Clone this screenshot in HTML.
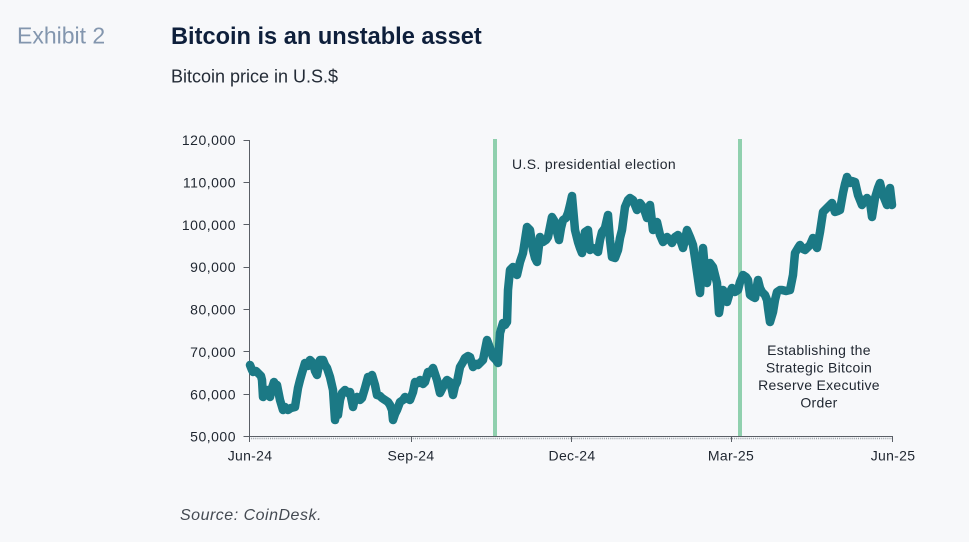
<!DOCTYPE html>
<html>
<head>
<meta charset="utf-8">
<style>
  html, body { margin:0; padding:0; background:#f7f8fa; }
  body { width:969px; height:542px; overflow:hidden; }
  svg { display:block; }
  text { font-family: "Liberation Sans", Arial, sans-serif; }
</style>
</head>
<body>
<svg width="969" height="542" viewBox="0 0 969 542" xmlns="http://www.w3.org/2000/svg">
  <rect x="0" y="0" width="969" height="542" fill="#f7f8fa"/>

  <!-- Header -->
  <text x="17" y="43.5" font-size="23" fill="#8396ae">Exhibit 2</text>
  <text x="171" y="44" font-size="23.6" font-weight="bold" fill="#0e1f3b">Bitcoin is an unstable asset</text>
  <text x="171" y="82.5" font-size="18" fill="#232b36">Bitcoin price in U.S.$</text>

  <!-- Event lines -->
  <rect x="493" y="139" width="4" height="298" fill="#90d0ae"/>
  <rect x="738" y="139" width="4" height="298" fill="#90d0ae"/>

  <!-- Y axis -->
  <g stroke="#5a5f66" stroke-width="1">
    <line x1="249.5" y1="140" x2="249.5" y2="437"/>
    <line x1="243.5" y1="140.5" x2="249.5" y2="140.5"/>
    <line x1="243.5" y1="182.5" x2="249.5" y2="182.5"/>
    <line x1="243.5" y1="224.5" x2="249.5" y2="224.5"/>
    <line x1="243.5" y1="267.5" x2="249.5" y2="267.5"/>
    <line x1="243.5" y1="309.5" x2="249.5" y2="309.5"/>
    <line x1="243.5" y1="351.5" x2="249.5" y2="351.5"/>
    <line x1="243.5" y1="394.5" x2="249.5" y2="394.5"/>
    <line x1="243.5" y1="436.5" x2="249.5" y2="436.5"/>
  </g>
  <g font-size="14" fill="#1f2630" text-anchor="end" letter-spacing="0.5">
    <text x="236" y="145">120,000</text>
    <text x="236" y="187.4">110,000</text>
    <text x="236" y="229.8">100,000</text>
    <text x="236" y="272.2">90,000</text>
    <text x="236" y="314.5">80,000</text>
    <text x="236" y="356.9">70,000</text>
    <text x="236" y="399.3">60,000</text>
    <text x="236" y="441.7">50,000</text>
  </g>

  <!-- X axis -->
  <line x1="249" y1="436.5" x2="893" y2="436.5" stroke="#5a5f66" stroke-width="1"/>
  <line x1="249" y1="438.5" x2="893" y2="438.5" stroke="#9aa0a6" stroke-width="1.5" stroke-dasharray="1 1.1"/>
  <g stroke="#5a5f66" stroke-width="1">
    <line x1="249.5" y1="436" x2="249.5" y2="442"/>
    <line x1="411.5" y1="436" x2="411.5" y2="442"/>
    <line x1="571.5" y1="436" x2="571.5" y2="442"/>
    <line x1="731.5" y1="436" x2="731.5" y2="442"/>
    <line x1="892.5" y1="436" x2="892.5" y2="442"/>
  </g>
  <g font-size="14" fill="#1f2630" text-anchor="middle" letter-spacing="0.3">
    <text x="250" y="460.7">Jun-24</text>
    <text x="411" y="460.7">Sep-24</text>
    <text x="572" y="460.7">Dec-24</text>
    <text x="731" y="460.7">Mar-25</text>
    <text x="893" y="460.7">Jun-25</text>
  </g>

  <!-- Series -->
  <polyline fill="none" stroke="#1b7985" stroke-width="8.5" stroke-linejoin="round" stroke-linecap="round"
    points="250,365 252,370 253,372 256,371 258,373 261,376 262,380 263,397 265,392 267,390 269,395 270,397 272,388 274,382 276,386 277,385 280,400 283,410 285,407 288,410 291,408 295,407 298,388 300,380 302,373 305,363 308,366 310,360 313,363 315,371 317,375 320,360 323,360 325,365 327,368 330,377 333,390 335,420 337,410 338,415 340,400 342,393 345,390 348,393 350,392 352,402 353,407 355,398 357,397 360,400 362,398 365,388 368,377 370,378 372,375 375,385 377,395 380,396 382,398 385,400 388,402 390,405 392,410 393,420 395,414 397,410 400,402 403,400 405,397 408,399 410,400 413,392 415,382 418,383 420,380 423,384 425,382 428,372 430,373 433,368 435,374 437,380 440,393 443,387 445,383 447,380 450,382 452,390 453,395 455,386 457,382 460,367 463,362 465,358 468,356 470,357 473,367 476,364 478,365 481,362 483,360 487,340 490,348 493,357 496,360 498,363 500,333 503,323 505,325 507,322 508,290 510,270 513,267 515,272 517,275 520,262 523,253 525,240 527,227 530,230 533,250 535,258 537,262 540,237 543,242 546,240 548,237 552,217 555,222 557,232 559,240 561,228 563,220 566,218 568,213 570,205 572,196 575,230 578,242 580,248 582,253 585,232 588,230 590,250 593,248 596,250 598,252 600,240 602,232 605,228 608,215 610,240 612,257 615,258 618,250 620,238 622,230 625,207 628,200 630,198 633,200 635,205 637,210 640,203 643,207 645,212 647,218 650,205 653,230 655,226 657,222 660,235 663,242 665,240 667,237 670,240 672,243 675,237 678,235 681,242 683,248 685,240 687,230 690,237 693,245 695,258 697,272 700,293 703,248 705,270 707,283 710,263 713,267 715,275 717,283 719,313 721,300 723,290 725,296 727,302 730,292 732,288 735,292 738,290 740,282 743,275 746,277 748,280 750,295 753,297 755,298 758,280 760,288 762,292 765,295 767,300 768,308 770,322 773,312 775,300 777,292 780,290 782,290 786,291 790,290 793,275 795,253 798,248 800,245 803,249 805,250 808,247 810,245 813,238 815,244 817,248 820,232 823,212 826,209 828,207 832,203 835,212 838,211 840,210 843,193 845,184 847,177 850,183 852,181 855,182 858,195 860,200 862,205 865,200 867,198 870,202 872,217 875,198 878,188 880,183 883,195 885,200 887,205 890,188 892,205"/>

  <!-- Annotations -->
  <text x="512" y="169" font-size="14" fill="#1f2630" letter-spacing="0.35">U.S. presidential election</text>
  <g font-size="14" fill="#1f2630" text-anchor="middle" letter-spacing="0.3">
    <text x="819" y="355">Establishing the</text>
    <text x="819" y="372.5">Strategic Bitcoin</text>
    <text x="819" y="390">Reserve Executive</text>
    <text x="819" y="407.5">Order</text>
  </g>

  <!-- Source -->
  <text x="180" y="520" font-size="16" font-style="italic" fill="#444a52" letter-spacing="0.5">Source: CoinDesk.</text>
</svg>
</body>
</html>
